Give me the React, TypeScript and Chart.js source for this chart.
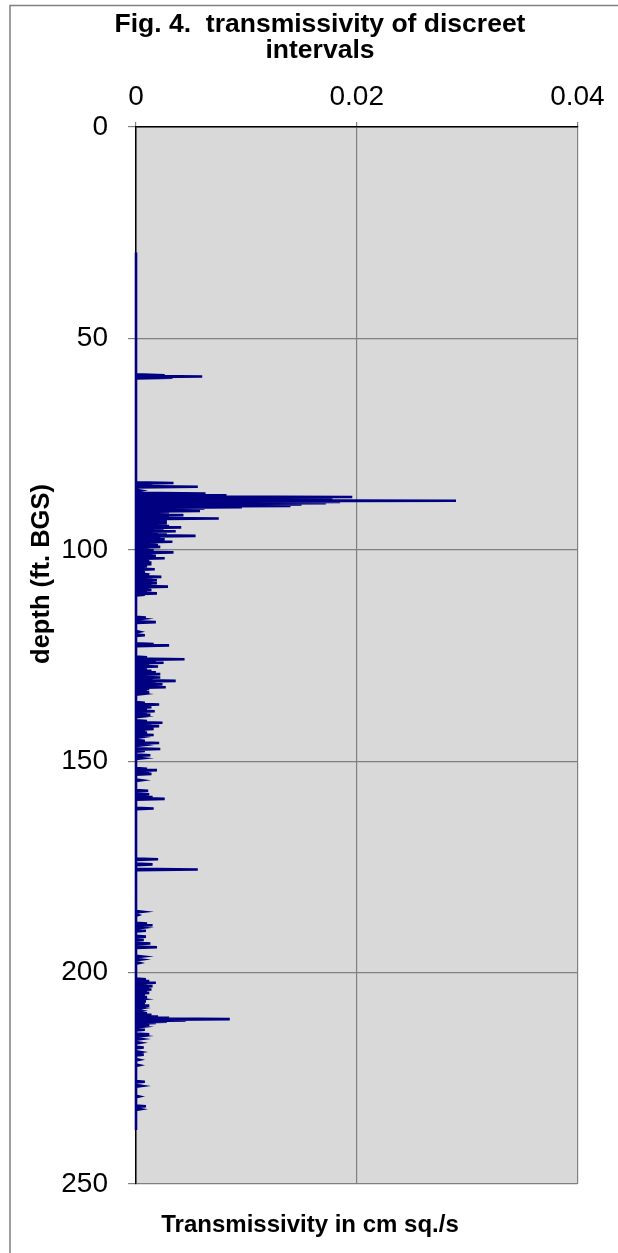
import React, { useEffect, useRef } from "react";
import { Chart, registerables } from "chart.js";

Chart.register(...registerables);

// ---------- data ----------
const chartTitleLines = ["Fig. 4.  transmissivity of discreet", "intervals"];
const xAxisTitle = "Transmissivity in cm sq./s";
const yAxisTitle = "depth (ft. BGS)";

const transTicks = [0, 0.02, 0.04];
const depthTicks = [0, 50, 100, 150, 200, 250];

const logTopFt = 29.7;
const logBottomFt = 237.2;

// depth (ft BGS) of each measured interval with non-zero transmissivity
const spikeDepthFt = [
  58.7, 59.0, 59.3,
  84.2, 84.5, 85.1, 86.0, 86.7, 87.1, 87.5, 87.8, 88.1, 88.4, 88.7, 89.0, 89.3, 89.6, 89.9,
  90.2, 90.5, 90.8, 91.1, 91.4, 91.8, 92.2, 92.6, 93.0, 93.3, 93.7, 94.0, 94.4, 94.7,
  95.1, 95.6, 96.0, 96.4, 96.7, 97.1, 97.5, 97.8, 98.1, 98.5, 98.9, 99.3, 99.7,
  100.1, 100.6, 101.0, 101.4, 102.0, 102.5, 103.0, 103.4, 103.9, 104.6, 105.1, 105.6,
  106.0, 106.4, 106.8, 107.2, 107.6, 107.9, 108.3, 108.7, 109.1, 109.5, 109.9, 110.3, 110.6,
  116.0, 116.3, 117.1, 119.4, 120.2, 122.3, 122.6,
  125.4, 125.9, 126.3, 126.7, 127.1, 127.6, 128.0, 128.6, 129.0, 129.4, 129.8, 130.2, 130.6,
  131.0, 131.4, 131.8, 132.2, 132.5, 132.9, 133.2, 133.7, 134.1,
  136.2, 136.6, 136.9, 137.2, 137.7, 138.2, 138.6, 139.0, 139.4,
  140.5, 140.9, 141.3, 141.7, 142.0, 142.4, 142.8, 143.2, 143.8, 144.3,
  145.2, 145.7, 146.2, 147.1, 147.6, 148.6, 149.3,
  151.8, 152.1, 152.5, 153.0, 154.5, 157.0, 157.8, 158.5, 158.9, 161.2,
  173.2, 174.4, 175.6,
  185.6, 186.4, 188.4, 188.8, 189.4, 190.1, 191.5, 192.3, 193.1, 194.0, 196.2, 196.9, 197.7,
  201.6, 202.0, 202.4, 202.8, 203.2, 203.6, 204.0, 204.4, 204.8, 205.3, 205.8, 206.3, 206.8,
  207.3, 207.8, 208.4, 209.0, 209.6, 210.0, 210.4, 210.7, 211.0, 211.3, 211.6, 211.9, 212.3,
  212.8, 213.5, 214.6, 215.0, 215.7, 216.6, 217.7, 218.8, 219.4, 220.6, 221.9,
  225.8, 226.8, 229.3, 231.6, 232.3,
];

// transmissivity (cm^2/s) at each of those depths
const spikeTransmissivity = [
  0.0026, 0.006, 0.0033,
  0.0034, 0.0015, 0.0056, 0.0004, 0.0063, 0.0082, 0.0196, 0.012, 0.0178, 0.029, 0.0185, 0.0172, 0.015, 0.014, 0.0096,
  0.0062, 0.004, 0.0058, 0.003, 0.0025, 0.0043, 0.003, 0.0075, 0.0025, 0.0028, 0.0028, 0.0022, 0.003, 0.0041,
  0.0025, 0.0036, 0.002, 0.0028, 0.0054, 0.0022, 0.0026, 0.002, 0.0033, 0.0018, 0.002, 0.0022, 0.0012,
  0.0016, 0.0034, 0.0015, 0.0018, 0.0026, 0.0012, 0.0014, 0.0014, 0.001, 0.0017, 0.0008, 0.0005,
  0.0012, 0.0023, 0.0015, 0.0019, 0.0012, 0.0019, 0.0014, 0.0029, 0.0012, 0.0014, 0.001, 0.0019, 0.0008,
  0.0009, 0.0006, 0.0018, 0.0003, 0.0008, 0.0016, 0.003,
  0.001, 0.0044, 0.0018, 0.0025, 0.0012, 0.002, 0.001, 0.0014, 0.0018, 0.0022, 0.0012, 0.0022, 0.0015,
  0.0036, 0.0018, 0.0024, 0.0016, 0.0027, 0.0012, 0.001, 0.0012, 0.0006,
  0.0008, 0.0021, 0.0012, 0.0014, 0.001, 0.0017, 0.001, 0.0013, 0.0006,
  0.001, 0.0024, 0.0014, 0.0021, 0.001, 0.0016, 0.0008, 0.001, 0.0016, 0.0005,
  0.0008, 0.0021, 0.0006, 0.0022, 0.0008, 0.0013, 0.0006,
  0.001, 0.0019, 0.0012, 0.0014, 0.0005, 0.0011, 0.0012, 0.0015, 0.0026, 0.0016,
  0.002, 0.0015, 0.0056,
  0.0006, 0.0002, 0.001, 0.0015, 0.0006, 0.0009, 0.0009, 0.0007, 0.0013, 0.0019, 0.0006, 0.0005, 0.0003,
  0.0009, 0.0012, 0.0018, 0.001, 0.0015, 0.0012, 0.0014, 0.001, 0.0012, 0.0008, 0.001, 0.0006, 0.0009,
  0.0008, 0.0012, 0.0005, 0.0004, 0.001, 0.0014, 0.002, 0.003, 0.0085, 0.0045, 0.0028, 0.0018, 0.0012,
  0.0006, 0.0008, 0.0012, 0.0006, 0.0005, 0.0004, 0.0007, 0.0004, 0.0007, 0.0003, 0.0003,
  0.0008, 0.0005, 0.0003, 0.0009, 0.0004,
];

// ---------- styling ----------
const FONT = '"Liberation Sans", Arial, Helvetica, sans-serif';
const LINE_COLOR = "#000080";
const PLOT_BG = "#d9d9d9";
const GRID_COLOR = "#808080";

function buildPoints() {
  const pts: { x: number; y: number }[] = [{ x: 0, y: logTopFt }];
  const half = 0.18;
  for (let i = 0; i < spikeDepthFt.length; i++) {
    const d = spikeDepthFt[i];
    const v = spikeTransmissivity[i];
    pts.push({ x: 0, y: d - half }, { x: v, y: d }, { x: 0, y: d + half });
  }
  pts.push({ x: 0, y: logBottomFt });
  return pts;
}

const decorPlugin = {
  id: "decor",
  beforeDraw(chart: any) {
    const { ctx, chartArea, width, height } = chart;
    ctx.save();
    ctx.fillStyle = "#ffffff";
    ctx.fillRect(0, 0, width, height);
    // outer frame
    ctx.strokeStyle = "#808080";
    ctx.lineWidth = 1.5;
    ctx.beginPath();
    ctx.moveTo(10, height + 2);
    ctx.lineTo(10, 5.5);
    ctx.lineTo(width + 2, 5.5);
    ctx.stroke();
    // plot background
    ctx.fillStyle = PLOT_BG;
    ctx.fillRect(chartArea.left, chartArea.top, chartArea.right - chartArea.left, chartArea.bottom - chartArea.top);
    ctx.restore();
  },
  afterDraw(chart: any) {
    const { ctx } = chart;
    ctx.save();
    ctx.fillStyle = "#000000";
    ctx.textAlign = "center";
    ctx.textBaseline = "alphabetic";
    ctx.font = `bold 26.5px ${FONT}`;
    ctx.fillText(chartTitleLines[0], 320, 32);
    ctx.fillText(chartTitleLines[1], 320, 58);
    ctx.font = `bold 24px ${FONT}`;
    ctx.fillText(xAxisTitle, 310, 1232);
    ctx.translate(42, 574);
    ctx.rotate(-Math.PI / 2);
    ctx.textBaseline = "middle";
    ctx.font = `bold 25.5px ${FONT}`;
    ctx.fillText(yAxisTitle, 0, 0);
    ctx.restore();
  },
};

export default function App() {
  const canvasRef = useRef<HTMLCanvasElement | null>(null);

  useEffect(() => {
    const canvas = canvasRef.current;
    if (!canvas) return;
    const chart = new Chart(canvas, {
      type: "scatter",
      data: {
        datasets: [
          {
            data: buildPoints(),
            showLine: true,
            borderColor: LINE_COLOR,
            backgroundColor: LINE_COLOR,
            borderWidth: 2.6,
            pointRadius: 0,
            pointHoverRadius: 0,
            tension: 0,
            clip: false as any,
          },
        ],
      },
      options: {
        responsive: false,
        animation: false,
        events: [],
        layout: { padding: { top: 0, left: 0, right: 40.6, bottom: 69 } },
        plugins: {
          legend: { display: false },
          tooltip: { enabled: false },
          title: { display: false },
        },
        scales: {
          x: {
            type: "linear",
            position: "top",
            min: 0,
            max: 0.04,
            afterBuildTicks: (s: any) => {
              s.ticks = transTicks.map((v) => ({ value: v }));
            },
            afterFit: (s: any) => {
              s.height = 127;
            },
            ticks: {
              font: { family: FONT, size: 28 },
              color: "#000000",
              padding: 8,
              maxRotation: 0,
              callback: (v: any) => String(v),
            },
            grid: { color: GRID_COLOR, lineWidth: 1.2, tickLength: 5 },
            border: { color: "#000000", width: 1.5 },
          },
          y: {
            type: "linear",
            reverse: true,
            min: 0,
            max: 250,
            afterBuildTicks: (s: any) => {
              s.ticks = depthTicks.map((v) => ({ value: v }));
            },
            afterFit: (s: any) => {
              s.width = 136;
            },
            ticks: {
              font: { family: FONT, size: 28 },
              color: "#000000",
              padding: 20,
              callback: (v: any) => String(v),
            },
            grid: { color: GRID_COLOR, lineWidth: 1.2, tickLength: 8 },
            border: { color: "#000000", width: 1.5 },
          },
        },
      },
      plugins: [decorPlugin],
    });
    return () => chart.destroy();
  }, []);

  return (
    <div style={{ position: "absolute", left: 0, top: 0, width: 618, height: 1253, background: "#fff" }}>
      <canvas ref={canvasRef} width={618} height={1253} style={{ width: 618, height: 1253, display: "block" }} />
    </div>
  );
}
